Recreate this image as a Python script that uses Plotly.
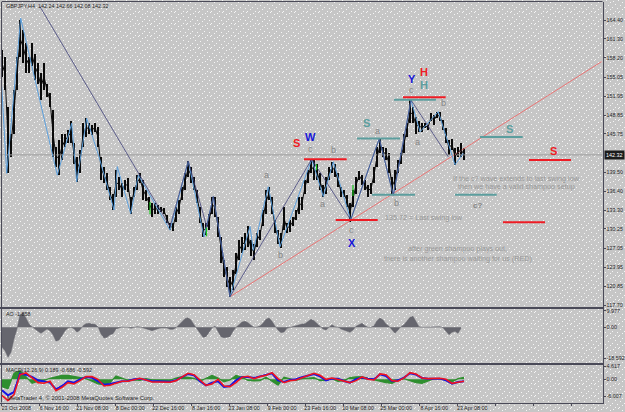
import base64
import plotly.graph_objects as go

# ---- price pane: high/low per column, three slots apart, in JPY ----
highs = [159.5,158.4,150.2,145.8,153.0,158.4,164.4,162.8,160.6,158.4,160.6,158.9,157.3,155.7,157.3,154.0,152.4,149.7,143.6,144.7,
145.8,145.8,146.4,147.8,144.2,142.0,143.1,147.5,148.3,147.5,147.2,147.5,146.9,142.0,140.4,139.3,137.1,136.0,139.8,138.7,
137.7,138.2,138.5,135.5,137.1,139.0,139.3,138.2,136.6,135.5,134.4,134.4,134.1,133.8,133.7,132.5,131.1,131.1,133.8,134.9,
137.1,139.3,141.3,140.4,138.7,136.6,133.8,131.1,131.1,132.7,135.5,135.5,132.2,128.9,125.1,124.0,122.4,123.5,126.2,128.4,
128.9,129.5,130.6,128.4,127.8,129.5,130.0,133.3,136.6,137.1,135.5,131.7,130.0,129.5,133.8,131.1,131.7,132.2,133.3,135.5,
135.5,138.2,139.8,141.6,141.5,140.9,139.3,137.4,138.7,140.4,141.2,140.9,139.3,137.1,136.6,135.7,134.4,136.6,138.7,139.7,
139.0,138.2,137.4,137.7,140.4,143.6,145.0,143.6,143.4,142.6,138.7,139.8,141.5,142.6,145.8,147.5,151.3,150.2,148.6,147.8,
147.5,147.5,147.2,149.1,148.8,149.4,149.4,148.0,146.7,144.7,145.0,143.4,143.6,144.2,143.4]
lows = [155.1,152.9,139.3,142.0,145.8,153.0,158.4,157.3,155.7,155.7,156.8,154.6,154.0,151.3,153.0,151.8,150.2,142.0,140.4,139.0,
141.5,143.6,144.2,144.2,140.9,137.9,139.3,143.6,145.3,145.8,145.6,146.1,143.6,138.2,137.7,136.6,134.9,133.3,135.5,136.6,
135.5,136.6,136.3,132.7,135.5,136.6,137.7,134.9,134.7,133.3,132.2,132.7,132.7,133.0,132.7,131.1,130.0,129.9,131.4,132.7,
134.9,136.6,138.7,137.7,136.6,134.4,131.1,128.9,129.2,130.0,132.7,132.2,128.9,124.6,122.4,120.7,119.1,120.2,122.9,125.1,
126.2,126.7,127.3,125.7,125.1,127.3,128.4,130.6,132.7,134.9,132.7,129.5,127.8,127.0,130.0,129.5,129.7,130.6,131.7,132.7,
133.3,136.0,137.7,139.3,138.2,138.2,136.6,135.5,136.0,138.2,139.3,138.7,137.1,135.5,135.5,133.8,131.4,133.8,136.0,138.2,
137.4,136.6,135.5,136.0,137.7,140.4,142.6,142.0,141.5,139.3,135.7,136.6,139.3,140.9,142.6,145.3,147.5,147.5,145.8,146.1,
146.1,146.7,146.4,147.8,147.2,148.3,147.8,146.4,144.2,142.3,143.1,140.7,142.0,142.0,141.5]
last_price = 142.32

# Bull bars that stay visible as green slivers (slot, high, low)
green_slot = [150.0, 206.5, 316.5, 353.0]
green_high = [134.6, 130.4, 140.8, 137.4]
green_low = [132.6, 129.0, 139.8, 135.6]

# Wave zigzag, and the coarser swing line on top of it
wave_slot = [1.7,6.7,20.7,41.7,57.3,71.7,76.7,86.7,99,114,117.3,130.7,138.3,170,188.3,204,213.3,230,250,253.3,268.3,280,311.7,323.3,333.3,350.7,379.3,393.3,411,420,438.3,455,463.3]
wave_price = [153.5,139.3,164.7,150.2,139.0,147.5,137.9,148.3,142.0,133.3,140.4,132.7,139.0,130.0,141.3,128.9,135.5,119.1,130.6,126.7,137.1,127.3,141.6,135.5,141.2,131.7,145.0,135.7,151.3,146.1,149.4,140.7,142.6]
swing_slot = [40,138.3,170,188.3,206.7,213.3,230,311.7,350.7,379.3,393.3,411,448.3]
swing_price = [166.6,139.3,130.6,141.3,130.6,135.5,119.1,141.6,131.7,145.0,135.7,151.3,142.0]
trend_slot = [230, 601.7]
trend_price = [119.1, 157.6]

# Level markers: start slot, end slot, price
red_levels = [(304,346.7,141.6),(335.7,377.7,131.66),(403,445.7,151.75),(529,571,141.5),(503,545,131.3)]
teal_levels = [(357,400,145.0),(372,415,135.8),(394,436,151.35),(480,522.7,145.25),(455,496.7,135.8)]

# Wave letters and notes: text, slot, price, colour, size, bold
RED, BLUE, TEAL, NOTE, LETTER = "#ee1c25", "#1616d8", "#5c9e9e", "#979797", "#858585"
wave_labels = [
    ("S",296.7,144.2,RED,11,True),("W",310.7,145.2,BLUE,11,True),("c",310.7,143.3,LETTER,9,False),
    ("a",266.7,139.0,LETTER,9,False),("b",280,125.9,LETTER,9,False),("b",333.3,143.1,LETTER,9,False),
    ("a",322.7,134.3,LETTER,9,False),("c",351.7,130.0,LETTER,9,False),("X",352.3,127.9,BLUE,11,True),
    ("S",366.7,147.5,TEAL,11,True),("a",377.3,146.2,LETTER,9,False),("b",396,134.4,LETTER,9,False),
    ("Y",411.7,154.7,BLUE,11,True),("H",423.7,155.9,RED,11,True),("H",424.3,153.8,TEAL,11,True),
    ("c",411.7,152.9,LETTER,9,False),("b",443.3,150.8,LETTER,9,False),("a",417.7,144.5,LETTER,9,False),
    ("S",509.3,146.5,TEAL,11,True),("S",553.3,143.0,RED,11,True),("c?",477.3,134.1,LETTER,8,True),
    ("If the c? wave extends to last swing low",516.7,138.5,NOTE,7.2,False),
    ("then we have a valid shampoo setup",516.7,137.1,NOTE,7.2,False),
    ("135.72 = Last swing low",423.7,132.1,NOTE,7.2,False),
    ("after green shampoo plays out,",457.7,127.0,NOTE,7.2,False),
    ("there is another shampoo waiting for us (RED)",457.7,125.4,NOTE,7.2,False),
]

# ---- Awesome Oscillator, one value per price column ----
ao_values = [-12.0,-14.0,-18.0,-15.0,-7.0,-1.0,7.6,8.4,5.6,2.0,0.4,-1.2,-2.4,-3.6,-2.4,-1.0,-2.0,-4.4,-8.4,-7.6,
-5.0,-2.0,-0.4,0.0,-0.8,-3.0,-1.6,1.0,2.2,2.4,2.0,1.8,0.4,-4.0,-6.4,-6.0,-4.4,-3.8,-1.0,-0.2,
0.2,0.0,0.0,-0.6,-0.2,0.4,0.2,-0.2,-0.8,-1.4,-2.0,-1.2,-0.8,-0.4,-0.4,-0.4,-1.2,-1.2,-0.2,1.6,
3.6,5.2,5.8,4.4,1.6,-0.8,-3.6,-6.0,-5.6,-2.8,-0.4,0.8,-2.4,-5.6,-6.2,-6.0,-5.6,-2.4,0.0,1.6,
3.2,3.6,2.8,1.2,0.0,0.2,0.8,2.4,4.8,5.6,3.6,0.8,-1.6,-3.2,-2.8,-0.6,0.0,0.4,1.2,1.8,
2.0,2.2,3.4,4.8,4.0,2.4,0.6,-1.0,-1.6,0.2,1.6,0.4,0.0,-1.0,-1.8,-2.4,-3.0,-1.6,0.6,1.6,
2.4,1.0,0.0,0.0,1.0,4.0,5.6,4.4,2.0,0.6,-1.6,-3.6,-1.6,0.4,1.6,4.0,6.0,6.6,3.0,0.4,
0.0,0.0,0.4,0.2,0.4,0.4,0.4,-0.2,-2.4,-4.4,-3.0,-2.4,-3.6,-0.6]
ao_label = "AO -1.858"

# ---- MACD(12,26,9), one value every six slots ----
macd_main = [-3.85,-5.6,-4.43,1.98,1.63,0.82,-0.35,-0.7,-1.17,-3.5,-2.33,-0.7,-1.17,0,0.82,0.58,-0.7,-1.87,-1.63,-1.17,
-0.7,-0.58,0,0.23,-0.35,-0.7,-0.7,-0.7,-0.82,-0.35,0.82,1.87,1.4,-0.7,-2.1,-1.17,-0.7,-2.68,-2.33,-0.35,
0.82,0.82,0.47,1.05,1.63,2.1,-0.35,-0.93,-0.23,0,0.7,1.4,1.87,1.05,-0.35,0.23,0.23,-0.58,-1.17,0,
0.58,0.23,0,1.75,1.17,-0.7,-0.35,0.58,2.1,1.63,0.47,0.23,0.23,0.23,-0.35,-1.52,-0.93,-0.7]
macd_signal = [-5.6,-7.47,-5.37,1.63,2.22,0.47,-1.17,-1.4,-0.7,-3.97,-2.8,-1.17,-1.63,-0.47,0.93,0.93,0,-2.33,-2.1,-1.4,
-0.7,-0.7,-0.23,0.35,-0.23,-0.93,-0.93,-0.93,-1.05,-0.47,0.7,2.1,1.63,-0.23,-2.1,-1.63,0,-2.33,-2.57,-1.17,
0.7,1.05,0.23,0.93,1.4,2.33,0.23,-1.17,-0.47,-0.23,0.47,1.17,2.1,1.4,0,0.47,0,-0.47,-1.17,-0.47,
0.82,0,-0.23,1.87,1.63,-0.47,-0.7,0.47,2.33,1.87,0.47,0.23,0.23,0.35,0,-1.4,-1.05,-0.7]
macd_hist = [-2.57,-3.27,2.1,3.03,0.93,-1.4,-0.7,-0.35,0.35,0.93,1.4,1.4,0.93,0.47,0.23,-0.7,-1.63,-1.87,-1.17,1.17,
0.47,-0.35,-0.23,-0.35,0.23,-0.23,-0.35,-0.23,-0.35,0.47,0.93,0.7,0.35,-0.7,0.23,1.4,0.47,-0.93,-0.23,1.4,
0.7,-0.35,-0.58,-0.47,0.7,-0.7,-2.1,0.7,0.23,-0.35,0.23,0.35,0.58,-0.47,-0.35,0.23,-0.7,-0.47,0.58,0.82,
0.93,0.35,-0.23,-0.7,-1.17,-1.4,-0.35,0.23,-0.35,-1.17,-1.4,-0.47,0.23,0.23,-0.35,-0.93,0.23,0.7]
macd_label = "MACD(12,26,9) 0.189 -0.686 -0.592"

# ---- axis text ----
chart_title = "GBPJPY,H4  142.24 142.66 142.08 142.32"
footer = "MetaTrader 4, © 2001-2008 MetaQuotes Software Corp."
date_labels = ["23 Oct 2008","6 Nov 16:00","21 Nov 08:00","8 Dec 00:00","22 Dec 16:00","8 Jan 16:00","23 Jan 08:00",
               "9 Feb 00:00","23 Feb 16:00","10 Mar 08:00","25 Mar 00:00","8 Apr 16:00","23 Apr 08:00"]
price_ticks = [164.40,161.30,158.20,155.05,151.95,148.85,145.75,139.50,136.40,133.30,130.25,127.05,123.95,120.85,117.70]
ao_ticks = [9.977,0.0,-18.592]
macd_ticks = [4.617,0.0,-6.007]

W, H = 625, 412
PLOT_RIGHT = 602.5
AXIS_COLOR = "#4a4a58"
TEXT_COLOR = "#262626"
FONT = "Liberation Sans"
SMALL = 5.4

def v_dom(top, bottom):
    return [(H - bottom) / H, (H - top) / H]

# Dithered desktop-style backdrop, as a tiled dot pattern
tile = [(1,1),(6,0),(10,2),(3,4),(8,5),(0,7),(5,8),(10,9),(3,11),(7,11)]
dots = "".join(f'<rect x="{a}" y="{b}" width="1" height="1" fill="#f6f6f6"/>' for a, b in tile)
svg = (f'<svg xmlns="http://www.w3.org/2000/svg" width="{W}" height="{H}"><defs>'
       f'<pattern id="d" width="12" height="12" patternUnits="userSpaceOnUse">{dots}</pattern></defs>'
       f'<rect width="{W}" height="{H}" fill="url(#d)"/></svg>')
backdrop = "data:image/svg+xml;base64," + base64.b64encode(svg.encode()).decode()

fig = go.Figure()

def line(x, y, color, width, xa="x", ya="y"):
    fig.add_trace(go.Scatter(x=x, y=y, mode="lines", line=dict(color=color, width=width),
                             xaxis=xa, yaxis=ya, hoverinfo="skip"))

line([0, PLOT_RIGHT], [last_price, last_price], "#9c9c9c", 1)
line(trend_slot, trend_price, "#e87474", 1)

# Each column is a high-low bar
cols = [2 + 3 * k for k in range(len(highs))]
fig.add_trace(go.Bar(x=cols, y=[h - l for h, l in zip(highs, lows)], base=lows, width=2.8,
                     marker=dict(color="#0a0a0a", line_width=0), xaxis="x", yaxis="y", hoverinfo="skip"))
line(cols, [(h + l) / 2 for h, l in zip(highs, lows)], "#0a0a0a", 1)
line(wave_slot, wave_price, "#5b9fdc", 1)
line(swing_slot, swing_price, "#3f4078", 0.8)
for x, hi, lo in zip(green_slot, green_high, green_low):
    line([x, x], [hi, lo], "#19c41c", 1.2)
for a, b, p in teal_levels:
    line([a, b], [p, p], TEAL, 2)
for a, b, p in red_levels:
    line([a, b], [p, p], RED, 2)

# Oscillator panes, drawn as filled histograms
fig.add_trace(go.Scatter(x=cols[:len(ao_values)], y=ao_values, mode="lines", fill="tozeroy",
                         fillcolor="#66666e", line=dict(color="#66666e", width=0.5),
                         xaxis="x2", yaxis="y2", hoverinfo="skip"))
macd_x = [2 + 6 * k for k in range(len(macd_main))]
fig.add_trace(go.Scatter(x=macd_x, y=macd_hist, mode="lines", fill="tozeroy",
                         fillcolor="#2f8f2f", line=dict(color="#2f8f2f", width=1.2),
                         xaxis="x3", yaxis="y3", hoverinfo="skip"))
line(macd_x, macd_main, "#1414e6", 2, "x3", "y3")
line(macd_x, macd_signal, "#f01420", 1.6, "x3", "y3")

notes = [dict(text=t, x=x, y=p, xref="x", yref="y", showarrow=False,
              font=dict(family=FONT, size=s, color=c, weight="bold" if b else "normal"))
         for t, x, p, c, s, b in wave_labels]

def corner(text, x_px, y_px, size=SMALL, color=TEXT_COLOR, **kw):
    return dict(text=text, x=x_px / W, y=(H - y_px) / H, xref="paper", yref="paper", showarrow=False,
                xanchor="left", yanchor="middle", font=dict(family=FONT, size=size, color=color), **kw)

notes += [
    corner(chart_title, 4, 6),
    corner(ao_label, 4, 314),
    corner(macd_label, 4, 369.5),
    corner(footer, 5, 397.5, size=5.9),
    corner(f"{last_price:.2f}", 604, 154.5, color="#ffffff", bgcolor="#1c1c1c", borderpad=1),
]

def x_axis(anchor, **kw):
    return dict(domain=[0, PLOT_RIGHT / W], range=[0, PLOT_RIGHT], anchor=anchor, showgrid=False, zeroline=False,
                showline=True, linecolor=AXIS_COLOR, linewidth=2, mirror=False, automargin=False,
                showticklabels=False, ticks="", **kw)

def y_axis(top, bottom, rng, ticks, anchor, labels=None):
    return dict(domain=v_dom(top, bottom), range=rng, side="right", anchor=anchor, showgrid=False, zeroline=False,
                showline=True, linecolor=AXIS_COLOR, linewidth=1, automargin=False, ticks="outside", ticklen=2,
                tickcolor=AXIS_COLOR, tickvals=ticks, ticktext=labels,
                tickfont=dict(family=FONT, size=SMALL, color=TEXT_COLOR))

# Dates sit to the right of their tick marks
tick_slots = [1.7 + 38 * k for k in range(len(date_labels))]
x3 = x_axis("y3")
x3.update(showticklabels=True, tickvals=[t + 14.5 for t in tick_slots], ticktext=date_labels,
          tickfont=dict(family=FONT, size=SMALL, color=TEXT_COLOR), tickangle=0, linewidth=1,
          ticklabeloverflow="allow",
          minor=dict(tick0=1.7, dtick=38, ticks="outside", ticklen=2, tickcolor=AXIS_COLOR))

fig.update_layout(
    width=W, height=H, margin=dict(l=0, r=0, t=0, b=0), autosize=False, template="none",
    showlegend=False, paper_bgcolor="#c6c6c6", plot_bgcolor="rgba(0,0,0,0)", barmode="overlay", bargap=0,
    images=[dict(source=backdrop, xref="paper", yref="paper", x=0, y=1, sizex=1, sizey=1,
                 sizing="stretch", xanchor="left", yanchor="top", layer="below")],
    annotations=notes,
    xaxis=x_axis("y"), xaxis2=x_axis("y2"), xaxis3=x3,
    yaxis=y_axis(2, 307, [117.42, 167.35], price_ticks, "x", [f"{t:.2f}" for t in price_ticks]),
    yaxis2=y_axis(308.5, 363, [-21.4, 11.3], ao_ticks, "x2", ["9.977", "0.00", "-18.592"]),
    yaxis3=y_axis(364.5, 402.5, [-8.12, 5.18], macd_ticks, "x3", ["4.617", "0.00", "-6.007"]),
    shapes=[dict(type="line", xref="paper", yref="paper", x0=1.5 / W, x1=1.5 / W,
                 y0=(H - 402.5) / H, y1=(H - 2) / H, line=dict(color=AXIS_COLOR, width=1)),
            dict(type="line", xref="paper", yref="paper", x0=1.5 / W, x1=PLOT_RIGHT / W,
                 y0=(H - 1.5) / H, y1=(H - 1.5) / H, line=dict(color=AXIS_COLOR, width=1))],
)

fig.write_html("out.html")
